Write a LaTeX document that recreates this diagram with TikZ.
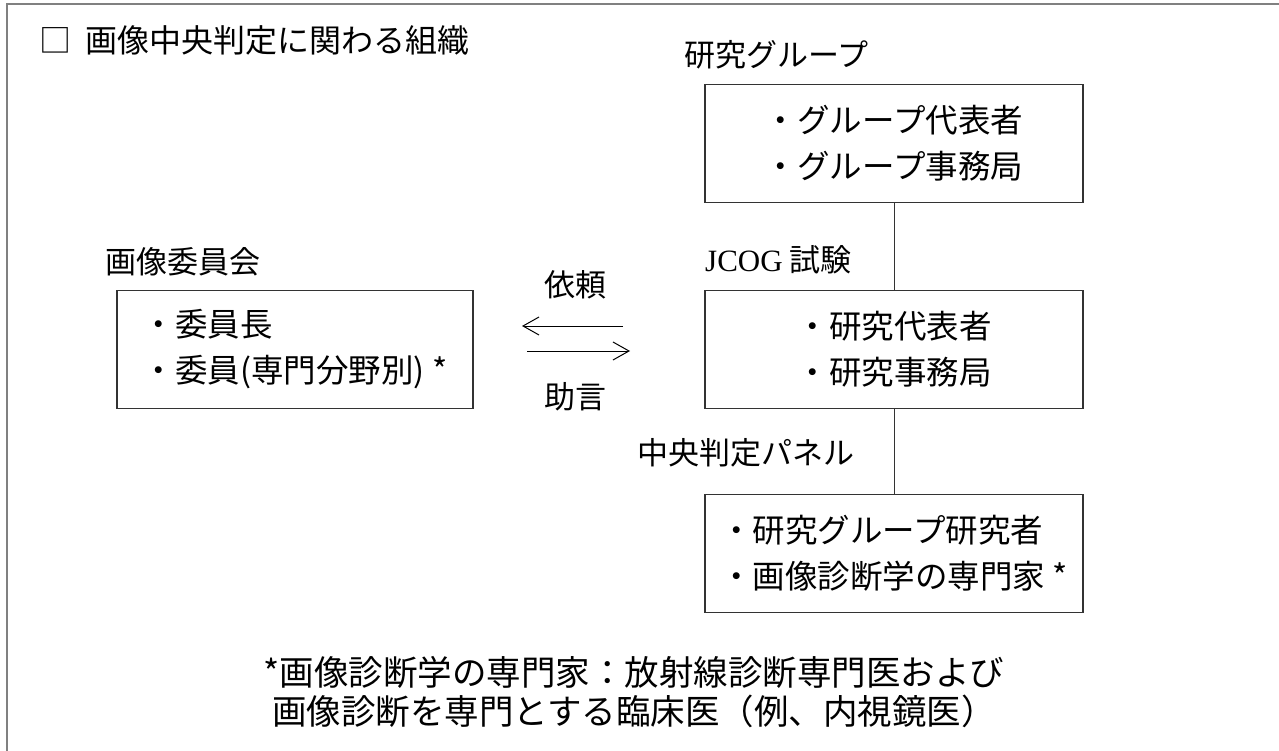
\documentclass[tikz,border=0pt]{standalone}
\usepackage{fontspec}
\setmainfont{Noto Sans CJK JP}
\newfontfamily\jcogfont{Liberation Serif}
\usetikzlibrary{arrows.meta}
\usetikzlibrary{positioning}

\begin{document}
\begin{tikzpicture}[x=1pt, y=-1pt,
		    every node/.style={font=\fontsize{31}{45}\selectfont, inner sep=0pt},
		    box/.style={draw=black!80, line width=1.2pt, minimum width=378pt, minimum height=118pt, align=left, font=\fontsize{32.5}{46}\selectfont},
		    lbl/.style={anchor=west},
		    link/.style={draw=black!80, line width=1pt},
		    flow/.style={line width=1pt, -{Straight Barb[length=16pt,width=18pt]}}]

\useasboundingbox (0,0) rectangle (1279,751);
\draw[gray, line width=1.5pt] (1279,4) -- (7,4) -- (7,751);

\node[lbl, font=\fontsize{32}{40}\selectfont] (title) at (39,40) {□\hspace{14pt}画像中央判定に関わる組織};

% right column
\node[box] (group) at (894,143.5) {・グループ代表者\\・グループ事務局};
\node[box] (jcog) at (894,349.5) {・研究代表者\\・研究事務局};
\node[box] (panel) at (894,553.5) {・研究グループ研究者\\・画像診断学の専門家 *};
\node[lbl] (grouplbl) at (684,55) {研究グループ};
\node[lbl] (jcoglbl) at (705,260) {{\jcogfont JCOG} 試験};
\node[lbl] (panellbl) at (637,453) {中央判定パネル};

\draw[link] (group.south) -- (jcog.north);
\draw[link] (jcog.south) -- (panel.north);

% left column
\node[box, minimum width=356pt] (comm) at (295,349.5) {・委員長\\・委員(専門分野別) *};
\node[lbl] (commlbl) at (105,262) {画像委員会};

\coordinate (reqfrom) at (623,326);
\coordinate (reqto) at (522,326);
\coordinate (advfrom) at (527,351);
\coordinate (advto) at (630,351);
\draw[flow] (reqfrom) -- (reqto);
\draw[flow] (advfrom) -- (advto);
\node (req) at (575,285) {依頼};
\node (adv) at (575,397) {助言};

\node[align=center, font=\fontsize{34.5}{39}\selectfont] (note) at (634,692)
    {*画像診断学の専門家：放射線診断専門医および\\画像診断を専門とする臨床医（例、内視鏡医）};
\end{tikzpicture}
\end{document}
